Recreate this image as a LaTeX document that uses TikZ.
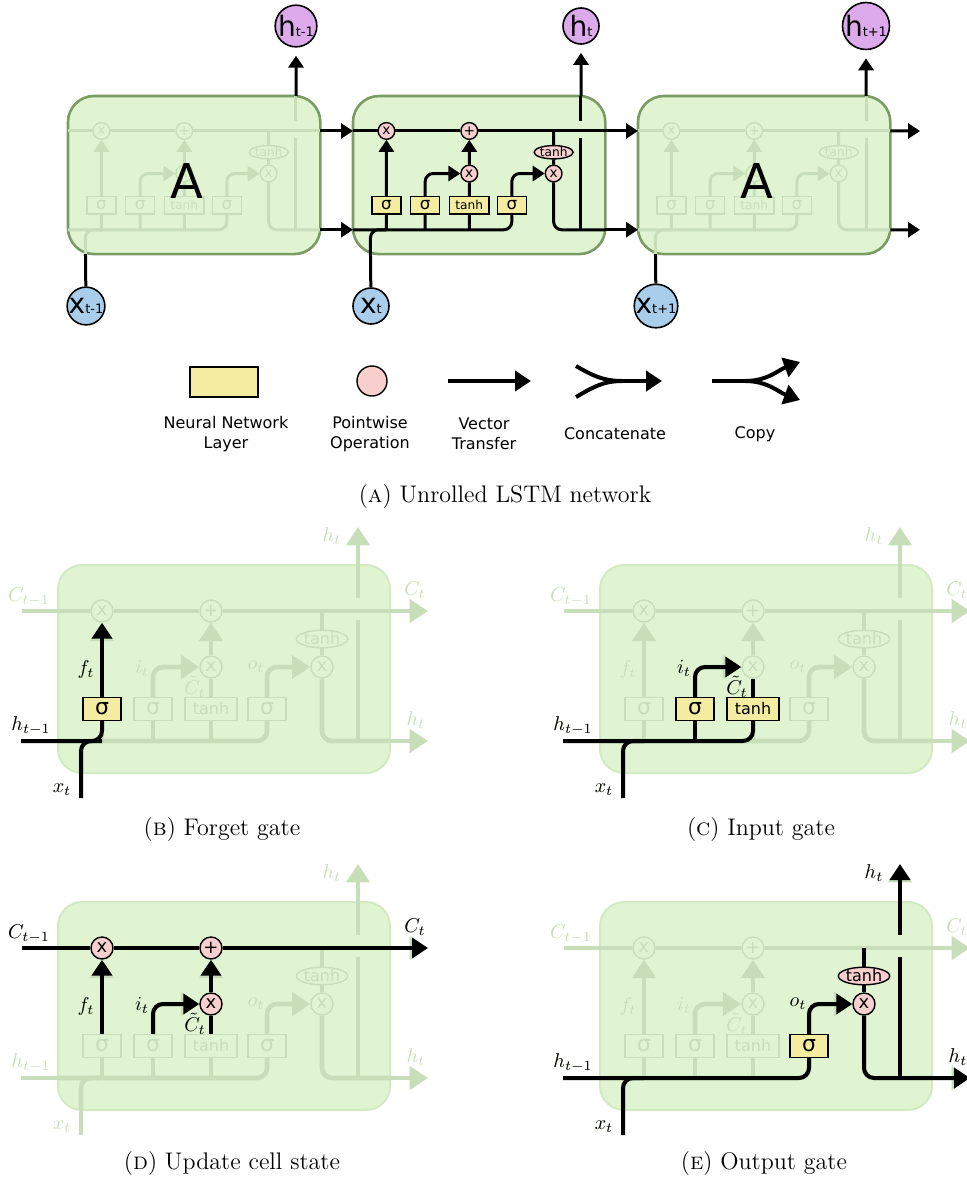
\documentclass[tikz,border=0pt]{standalone}
\usepackage{fontspec}
\newfontfamily\vera{DejaVu Sans}
\usetikzlibrary{arrows.meta,shapes.geometric}
\definecolor{cellbg}{HTML}{E0F4D2}
\definecolor{celledge}{HTML}{7A9C64}
\definecolor{gateedge}{HTML}{D2EAC2}
\definecolor{fade}{HTML}{C8DEB8}
\definecolor{pwpink}{HTML}{F8CFCD}
\definecolor{nnyellow}{HTML}{F4EDA1}
\definecolor{xblue}{HTML}{A9CEEB}
\definecolor{hpurple}{HTML}{DCA9EA}

\newcommand{\opfont}{\vera\fontsize{8}{8}\selectfont}
\newcommand{\sigfont}{\vera\fontsize{11}{11}\selectfont}
\newcommand{\pwfont}{\vera\fontsize{9}{9}\selectfont}
\newcommand{\vsub}[1]{{\fontsize{6.5}{6.5}\selectfont #1}}

% one LSTM cell, box corner at the origin, 332 x 208 units
\newcommand{\lstmcell}[2]{%
  \node[#2] (#1-box) at (166,104) {};
  \coordinate (#1-cl) at (0,46);
  \coordinate (#1-cr) at (332,46);
  \coordinate (#1-hl) at (0,176);
  \coordinate (#1-hr) at (332,176);
  \coordinate (#1-tj) at (264,46);
  \coordinate (#1-hj) at (300,176);
  \coordinate (#1-hg) at (300,55);
  \coordinate (#1-hu) at (300,33);
  \coordinate (#1-ht) at (300,0);
  \coordinate (#1-xb) at (23,208);
  \node[pw] (#1-f) at (44,46) {x};
  \node[pw] (#1-p) at (153,46) {+};
  \node[pw] (#1-i) at (153,102) {x};
  \node[pw] (#1-o) at (264,102) {x};
  \node[th] (#1-th) at (264,74) {tanh};
  \node[nn,font=\sigfont] (#1-sf) at (44,144) {σ};
  \node[nn,font=\sigfont] (#1-si) at (95,144) {σ};
  \node[nn,minimum width=26pt] (#1-tc) at (153,144) {tanh};
  \node[nn,font=\sigfont] (#1-so) at (209,144) {σ};
  \draw[ln] (#1-cl) -- (#1-f) -- (#1-p) -- (#1-cr);
  \draw[ln] (#1-xb) |- (#1-sf |- #1-hl);
  \draw[ln] (#1-hl) -| (#1-so);
  \draw[ln] (#1-sf) -- (#1-sf |- #1-hl);
  \draw[ln] (#1-si) -- (#1-si |- #1-hl);
  \draw[ln] (#1-tc) -- (#1-tc |- #1-hl);
  \draw[arr] (#1-sf) -- (#1-f);
  \draw[arr] (#1-si) |- (#1-i);
  \draw[ln] (#1-tc) -- (#1-i);
  \draw[arr] (#1-i) -- (#1-p);
  \draw[arr] (#1-so) |- (#1-o);
  \draw[ln] (#1-tj) -- (#1-th);
  \draw[ln] (#1-th) -- (#1-o);
  \draw[ln] (#1-o) |- (#1-hr);
  \draw[ln] (#1-hj) -- (#1-hg);
  \draw[ln] (#1-hu) -- (#1-ht);
}

% the lines and labels round a gate cell
\newcommand{\gateext}[1]{%
  \coordinate (#1-cs) at (-36,46);
  \coordinate (#1-ce) at (370,46);
  \coordinate (#1-hs) at (-37,176);
  \coordinate (#1-he) at (370,176);
  \coordinate (#1-xs) at (23,233);
  \coordinate (#1-hz) at (300,-38);
  \draw[ln] (#1-cs) -- (#1-cl);
  \draw[arr] (#1-cr) -- (#1-ce);
  \draw[ln] (#1-hs) -- (#1-hl);
  \draw[arr] (#1-hr) -- (#1-he);
  \draw[ln] (#1-xs) -- (#1-xb);
  \draw[arr] (#1-ht) -- (#1-hz);
  \node[lbl] (#1-Lc) at (-29,32) {$C_{t-1}$};
  \node[lbl] (#1-LC) at (357,25) {$C_t$};
  \node[lbl] (#1-Lht) at (274,-29) {$h_t$};
  \node[lbl] (#1-Lhr) at (358,155) {$h_t$};
  \node[lbl] (#1-Lh) at (-27,161) {$h_{t-1}$};
  \node[lbl] (#1-Lx) at (4,225) {$x_t$};
  \node[lbl] (#1-Lf) at (28,104) {$f_t$};
  \node[lbl] (#1-Li) at (84,103) {$i_t$};
  \node[lbl] (#1-Lg) at (137,122) {$\tilde{C}_t$};
  \node[lbl] (#1-Lo) at (198,102) {$o_t$};
}

\begin{document}
\begin{tikzpicture}[x=0.5pt,y=-0.5pt,
    arr/.style={ln,-{Triangle[length=0pt 4,width=0pt 5]}},
    cellon/.style 2 args={
      ln/.style={draw=black,line width=#1,rounded corners=#2},
      pw/.style={circle,draw=black,fill=pwpink,line width=0.7pt,minimum size=11pt,inner sep=0pt,font=\pwfont},
      nn/.style={draw=black,fill=nnyellow,line width=0.7pt,minimum width=19pt,minimum height=11.5pt,inner sep=0pt,font=\opfont},
      th/.style={ellipse,draw=black,fill=pwpink,line width=0.7pt,minimum width=25pt,minimum height=8.5pt,inner sep=0pt,font=\opfont},
      lbl/.style={text=black}},
    celloff/.style 2 args={
      ln/.style={draw=fade,line width=#1,rounded corners=#2},
      pw/.style={circle,draw=fade,fill=cellbg,text=fade,line width=0.7pt,minimum size=11pt,inner sep=0pt,font=\pwfont},
      nn/.style={draw=fade,fill=cellbg,text=fade,line width=0.7pt,minimum width=19pt,minimum height=11.5pt,inner sep=0pt,font=\opfont},
      th/.style={ellipse,draw=fade,fill=cellbg,text=fade,line width=0.7pt,minimum width=25pt,minimum height=8.5pt,inner sep=0pt,font=\opfont},
      lbl/.style={text=fade}},
    topbox/.style={draw=celledge,fill=cellbg,line width=1.3pt,rounded corners=13pt,minimum width=166pt,minimum height=104pt},
    gatebox/.style={draw=gateedge,fill=cellbg,line width=1pt,rounded corners=12pt,minimum width=166pt,minimum height=104pt},
    hcirc/.style={circle,draw=black,fill=hpurple,line width=0.8pt,minimum size=18pt,inner sep=0pt,font=\vera\fontsize{14}{14}\selectfont},
    xcirc/.style={hcirc,fill=xblue},
    bigA/.style={font=\vera\fontsize{24}{24}\selectfont},
    lgtext/.style={align=center,font=\vera\fontsize{8}{10}\selectfont},
    capt/.style={font=\fontsize{12}{14}\selectfont}
  ]
  \useasboundingbox (0,0) rectangle (967,1189);

  % (a) unrolled network
  \begin{scope}[shift={(68,96)},scale=0.76,transform shape,celloff={1.5pt}{4pt}]
    \lstmcell{l}{topbox}
  \end{scope}
  \begin{scope}[shift={(353,96)},scale=0.76,transform shape,cellon={1.5pt}{4pt}]
    \lstmcell{m}{topbox}
  \end{scope}
  \begin{scope}[shift={(638,96)},scale=0.76,transform shape,celloff={1.5pt}{4pt}]
    \lstmcell{r}{topbox}
  \end{scope}
  \node[bigA] (l-A) at (187,181) {A};
  \node[bigA] (r-A) at (757,181) {A};

  \begin{scope}[cellon={1.5pt}{4pt}]
    \node[hcirc] (h-l) at (296,26) {h\vsub{t-1}};
    \node[hcirc] (h-m) at (581,26) {h\vsub{t}};
    \node[hcirc] (h-r) at (866,26) {h\vsub{t+1}};
    \node[xcirc] (x-l) at (86,306) {x\vsub{t-1}};
    \node[xcirc] (x-m) at (371,306) {x\vsub{t}};
    \node[xcirc] (x-r) at (656,306) {x\vsub{t+1}};
    \coordinate (c-out) at (920,131);
    \coordinate (h-out) at (920,229.8);
    \draw[arr,shorten >=4pt] (l-ht) -- (h-l);
    \draw[arr,shorten >=4pt] (m-ht) -- (h-m);
    \draw[arr,shorten >=4pt] (r-ht) -- (h-r);
    \draw[ln] (x-l) -- (l-xb);
    \draw[ln] (x-m) -- (m-xb);
    \draw[ln] (x-r) -- (r-xb);
    \draw[arr] (l-cr) -- (m-cl);
    \draw[arr] (l-hr) -- (m-hl);
    \draw[arr] (m-cr) -- (r-cl);
    \draw[arr] (m-hr) -- (r-hl);
    \draw[arr] (r-cr) -- (c-out);
    \draw[arr] (r-hr) -- (h-out);
  \end{scope}

  % legend
  \begin{scope}[cellon={2pt}{0pt}]
    \node[nn,minimum width=34pt,minimum height=15pt] (lg-nn) at (224,382) {};
    \node[pw,minimum size=15pt] (lg-pw) at (372,381) {};
    \coordinate (lg-va) at (448,381);
    \coordinate (lg-vb) at (531,381);
    \draw[arr] (lg-va) -- (lg-vb);
    \coordinate (lg-ca) at (576,366);
    \coordinate (lg-cb) at (576,397);
    \coordinate (lg-cm) at (622,381);
    \coordinate (lg-ce) at (662,381);
    \draw[ln] (lg-ca) to[out=-30,in=180] (lg-cm);
    \draw[ln] (lg-cb) to[out=30,in=180] (lg-cm);
    \draw[arr] (lg-cm) -- (lg-ce);
    \coordinate (lg-pa) at (712,381);
    \coordinate (lg-pm) at (745,381);
    \coordinate (lg-pu) at (800,362);
    \coordinate (lg-pd) at (800,400);
    \draw[ln] (lg-pa) -- (lg-pm);
    \draw[arr] (lg-pm) to[out=0,in=200] (lg-pu);
    \draw[arr] (lg-pm) to[out=0,in=160] (lg-pd);
  \end{scope}
  \node[lgtext] (lg-t1) at (226,434) {Neural Network\\Layer};
  \node[lgtext] (lg-t2) at (370,434) {Pointwise\\Operation};
  \node[lgtext] (lg-t3) at (484,434) {Vector\\Transfer};
  \node[lgtext] (lg-t4) at (615,434) {Concatenate};
  \node[lgtext] (lg-t5) at (755,434) {Copy};
  \node[capt] (cap-a) at (505,497) {(\textsc{a}) Unrolled LSTM network};

  % (b) forget gate
  \begin{scope}[shift={(58,565)},celloff={2.3pt}{5pt}]
    \lstmcell{b}{gatebox}
    \gateext{b}
  \end{scope}
  \begin{scope}[cellon={2pt}{5pt}]
    \node[nn,font=\sigfont] (b-sf2) at (b-sf) {σ};
    \draw[ln] (b-xs) |- (b-sf2 |- b-hl);
    \draw[ln] (b-hs) -| (b-sf2);
    \draw[arr] (b-sf2) -- (b-f);
    \node[lbl] (b-Lf2) at (b-Lf) {$f_t$};
    \node[lbl] (b-Lh2) at (b-Lh) {$h_{t-1}$};
    \node[lbl] (b-Lx2) at (b-Lx) {$x_t$};
  \end{scope}
  \node[capt] (cap-b) at (222,830) {(\textsc{b}) Forget gate};

  % (c) input gate
  \begin{scope}[shift={(600,565)},celloff={2.3pt}{5pt}]
    \lstmcell{c}{gatebox}
    \gateext{c}
  \end{scope}
  \begin{scope}[cellon={2pt}{5pt}]
    \node[nn,font=\sigfont] (c-si2) at (c-si) {σ};
    \node[nn,minimum width=26pt] (c-tc2) at (c-tc) {tanh};
    \draw[ln] (c-xs) |- (c-sf |- c-hl);
    \draw[ln] (c-hs) -| (c-tc2);
    \draw[ln] (c-si2) -- (c-si2 |- c-hl);
    \draw[arr] (c-si2) |- (c-i);
    \draw[ln] (c-tc2) -- (c-i);
    \node[lbl] (c-Li2) at (c-Li) {$i_t$};
    \node[lbl] (c-Lg2) at (c-Lg) {$\tilde{C}_t$};
    \node[lbl] (c-Lh2) at (c-Lh) {$h_{t-1}$};
    \node[lbl] (c-Lx2) at (c-Lx) {$x_t$};
  \end{scope}
  \node[capt] (cap-c) at (761,830) {(\textsc{c}) Input gate};

  % (d) update cell state
  \begin{scope}[shift={(58,902)},celloff={2.3pt}{5pt}]
    \lstmcell{d}{gatebox}
    \gateext{d}
  \end{scope}
  \begin{scope}[cellon={2pt}{5pt}]
    \node[pw] (d-f2) at (d-f) {x};
    \node[pw] (d-p2) at (d-p) {+};
    \node[pw] (d-i2) at (d-i) {x};
    \draw[arr] (d-cs) -- (d-f2) -- (d-p2) -- (d-ce);
    \draw[arr] (d-sf) -- (d-f2);
    \draw[arr] (d-si) |- (d-i2);
    \draw[ln] (d-tc) -- (d-i2);
    \draw[arr] (d-i2) -- (d-p2);
    \node[lbl] (d-Lc2) at (d-Lc) {$C_{t-1}$};
    \node[lbl] (d-LC2) at (d-LC) {$C_t$};
    \node[lbl] (d-Lf2) at (d-Lf) {$f_t$};
    \node[lbl] (d-Li2) at (d-Li) {$i_t$};
    \node[lbl] (d-Lg2) at (d-Lg) {$\tilde{C}_t$};
  \end{scope}
  \node[capt] (cap-d) at (232,1163) {(\textsc{d}) Update cell state};

  % (e) output gate
  \begin{scope}[shift={(600,902)},celloff={2.3pt}{5pt}]
    \lstmcell{e}{gatebox}
    \gateext{e}
  \end{scope}
  \begin{scope}[cellon={2pt}{5pt}]
    \node[nn,font=\sigfont] (e-so2) at (e-so) {σ};
    \node[th] (e-th2) at (e-th) {tanh};
    \node[pw] (e-o2) at (e-o) {x};
    \draw[ln] (e-xs) |- (e-sf |- e-hl);
    \draw[ln] (e-hs) -| (e-so2);
    \draw[arr] (e-so2) |- (e-o2);
    \draw[ln] (e-tj) -- (e-th2);
    \draw[ln] (e-th2) -- (e-o2);
    \draw[arr] (e-o2) |- (e-he);
    \draw[ln] (e-hj) -- (e-hg);
    \draw[arr] (e-hu) -- (e-hz);
    \node[lbl] (e-Lo2) at (e-Lo) {$o_t$};
    \node[lbl] (e-Lht2) at (e-Lht) {$h_t$};
    \node[lbl] (e-Lhr2) at (e-Lhr) {$h_t$};
    \node[lbl] (e-Lh2) at (e-Lh) {$h_{t-1}$};
    \node[lbl] (e-Lx2) at (e-Lx) {$x_t$};
  \end{scope}
  \node[capt] (cap-e) at (764,1163) {(\textsc{e}) Output gate};
\end{tikzpicture}
\end{document}
